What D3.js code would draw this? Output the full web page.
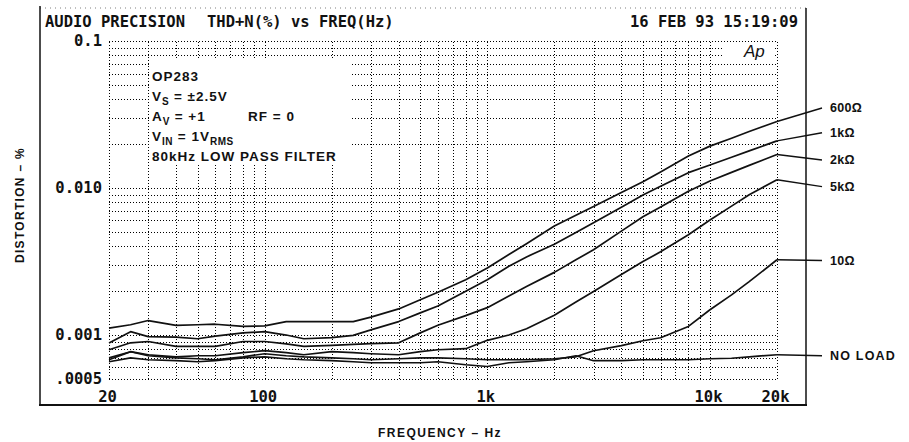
<!DOCTYPE html>
<html>
<head>
<meta charset="utf-8">
<script src="https://cdn.jsdelivr.net/npm/d3@7"></script>
<style>
  html, body { margin: 0; padding: 0; background: #fff; }
  svg { display: block; }
  .mono { font-family: "DejaVu Sans Mono", "Liberation Mono", monospace; font-weight: bold; fill: #111; }
  .sans { font-family: "Liberation Sans", Arial, Helvetica, sans-serif; font-weight: bold; fill: #111; }
</style>
</head>
<body>
<svg id="chart" width="909" height="442"></svg>
<script>
// ---------------- DATA ----------------
const frequencies = [20,25,30,40,50,60,80,100,125,150,200,250,300,400,500,600,800,1000,1250,1500,2000,2500,3000,4000,5000,6000,8000,10000,12500,15000,20000];

const thd600 = [0.00111,0.00117,0.00125,0.00116,0.00117,0.00118,0.00114,0.00115,0.00123,0.00123,0.00123,0.00123,0.00132,0.00150,0.00173,0.00195,0.00237,0.00285,0.00352,0.00417,0.00551,0.00651,0.00746,0.00930,0.01101,0.01285,0.01646,0.01925,0.0218,0.0242,0.0283];
const thd1k = [0.000879,0.00105,0.000972,0.000963,0.000940,0.000978,0.00103,0.00105,0.000996,0.000940,0.000957,0.00099,0.00108,0.00123,0.00141,0.00157,0.00198,0.00237,0.00293,0.00339,0.00414,0.00496,0.00578,0.00737,0.00893,0.01026,0.0127,0.01433,0.01618,0.01786,0.0209];
const thd2k = [0.000791,0.000882,0.0009,0.000833,0.000833,0.000833,0.0009,0.0009,0.000868,0.000833,0.000848,0.00086,0.00087,0.000882,0.00103,0.00116,0.00135,0.00153,0.00184,0.00213,0.00266,0.00324,0.00379,0.00508,0.00636,0.00742,0.00948,0.01115,0.01276,0.01423,0.0169];
const thd5k = [0.000697,0.000767,0.000731,0.000708,0.00072,0.00072,0.000755,0.000779,0.000755,0.000731,0.000767,0.000755,0.000743,0.000731,0.000767,0.000791,0.000804,0.000917,0.000996,0.0011,0.00136,0.00167,0.00197,0.00257,0.00315,0.00367,0.0048,0.00604,0.00751,0.00899,0.01136];
const thd10 = [0.000676,0.000767,0.00072,0.000697,0.000687,0.000676,0.000708,0.000743,0.00072,0.000708,0.000697,0.000687,0.000676,0.000687,0.000697,0.000697,0.000687,0.000676,0.000676,0.000676,0.000687,0.000708,0.000779,0.000843,0.000911,0.000955,0.00114,0.00148,0.00187,0.0023,0.00324];
const thdNoLoad = [0.000655,0.000697,0.000676,0.000666,0.000655,0.000666,0.000697,0.000708,0.000687,0.000676,0.000666,0.000655,0.000645,0.000645,0.000645,0.000655,0.000625,0.000608,0.000645,0.000655,0.000676,0.00072,0.000666,0.000666,0.000676,0.000676,0.000676,0.000687,0.000692,0.000708,0.000731];

const seriesNames = ["600Ω","1kΩ","2kΩ","5kΩ","10Ω","NO LOAD"];
const seriesValues = [thd600, thd1k, thd2k, thd5k, thd10, thdNoLoad];
// value level (in %) at which each series label sits
const labelLevels = [0.035, 0.0237, 0.0155, 0.0102, 0.0032, 0.00072];

const xTickValues = [20, 100, 1000, 10000, 20000];
const xTickLabels = ["20", "100", "1k", "10k", "20k"];
const yTickValues = [0.1, 0.01, 0.001, 0.0005];
const yTickLabels = ["0.1", "0.010", "0.001", ".0005"];

const xGridValues = [20,30,40,50,60,70,80,90,100,200,300,400,500,600,700,800,900,1000,2000,3000,4000,5000,6000,7000,8000,9000,10000,20000];
const yGridValues = [0.0005,0.0006,0.0007,0.0008,0.0009,0.001,0.002,0.003,0.004,0.005,0.006,0.007,0.008,0.009,0.01,0.02,0.03,0.04,0.05,0.06,0.07,0.08,0.09,0.1];

// ---------------- LAYOUT ----------------
const svg = d3.select("#chart");
const X0 = 109, X1 = 777, Y0 = 379, Y1 = 41;

const x = d3.scaleLog().domain([20, 20000]).range([X0, X1]);
const y = d3.scaleLog().domain([0.0005, 0.1]).range([Y0, Y1]);

svg.append("rect").attr("width", 909).attr("height", 442).attr("fill", "#fff");

// outer frame
svg.append("line").attr("x1", 40).attr("x2", 806).attr("y1", 8).attr("y2", 8)
  .attr("stroke", "#000").attr("stroke-width", 1).attr("stroke-dasharray", "1,4").attr("opacity", 0.5);
svg.append("line").attr("x1", 40).attr("x2", 40).attr("y1", 6).attr("y2", 405)
  .attr("stroke", "#111").attr("stroke-width", 1.5);
svg.append("line").attr("x1", 806).attr("x2", 806).attr("y1", 8).attr("y2", 405)
  .attr("stroke", "#111").attr("stroke-width", 1.5);
svg.append("line").attr("x1", 39).attr("x2", 807).attr("y1", 405).attr("y2", 405)
  .attr("stroke", "#111").attr("stroke-width", 2);

// grid
const gx = svg.append("g").attr("transform", `translate(0,${Y0})`)
  .call(d3.axisBottom(x).tickValues(xGridValues).tickSize(-(Y0 - Y1)).tickFormat(""));
const gy = svg.append("g").attr("transform", `translate(${X0},0)`)
  .call(d3.axisLeft(y).tickValues(yGridValues).tickSize(-(X1 - X0)).tickFormat(""));
[gx, gy].forEach(g => {
  g.select(".domain").remove();
  g.selectAll(".tick line").attr("stroke", "#000").attr("stroke-width", 1)
    .attr("stroke-dasharray", "1,2").attr("shape-rendering", "crispEdges");
});

// white boxes behind annotation and logo
svg.append("rect").attr("x", 150).attr("y", 58).attr("width", 201).attr("height", 106).attr("fill", "#fff");
svg.append("rect").attr("x", 722).attr("y", 44).attr("width", 53).attr("height", 14).attr("fill", "#fff");

// tick labels
const ax = svg.append("g").attr("transform", `translate(0,${Y0})`)
  .call(d3.axisBottom(x).tickValues(xTickValues).tickSize(0).tickPadding(12)
    .tickFormat((d, i) => xTickLabels[i]));
const ay = svg.append("g").attr("transform", `translate(${X0},0)`)
  .call(d3.axisLeft(y).tickValues(yTickValues).tickSize(0).tickPadding(7)
    .tickFormat((d, i) => yTickLabels[i]));
[ax, ay].forEach(g => {
  g.select(".domain").remove();
  g.selectAll(".tick text").attr("class", "mono").attr("font-size", 15.5)
    .style("font-family", '"DejaVu Sans Mono", monospace').style("font-weight", "bold").attr("fill", "#111");
});
ax.selectAll(".tick text").attr("dx", -2);

// title texts
svg.append("text").attr("class", "mono").attr("x", 45).attr("y", 27).attr("font-size", 15.5).text("AUDIO PRECISION");
svg.append("text").attr("class", "mono").attr("x", 207).attr("y", 27).attr("font-size", 15.5).text("THD+N(%) vs FREQ(Hz)");
svg.append("text").attr("class", "mono").attr("x", 798).attr("y", 27).attr("font-size", 15.5)
  .attr("text-anchor", "end").text("16 FEB 93 15:19:09");

// Ap logo
svg.append("text").attr("x", 744).attr("y", 57).attr("font-size", 17)
  .style("font-family", '"Liberation Sans", Arial, sans-serif').style("font-style", "italic")
  .attr("fill", "#111").text("Ap");

// axis titles
svg.append("text").attr("class", "sans").attr("font-size", 12).attr("letter-spacing", 1.3)
  .attr("text-anchor", "middle").attr("transform", "translate(24,205) rotate(-90)")
  .text("DISTORTION – %");
svg.append("text").attr("class", "sans").attr("font-size", 12).attr("letter-spacing", 1.5)
  .attr("text-anchor", "middle").attr("x", 440).attr("y", 436.5)
  .text("FREQUENCY – Hz");

// annotation block
const note = svg.append("g").attr("class", "sans").attr("font-size", 13.5).attr("letter-spacing", 1);
function noteLine(yb, parts, xStart) {
  const t = note.append("text").attr("x", xStart).attr("y", yb);
  parts.forEach(p => {
    const s = t.append("tspan").text(p.t);
    if (p.sub) s.attr("font-size", 10).attr("dy", 4).attr("letter-spacing", 0.5);
    if (p.up) s.attr("dy", -4);
  });
}
noteLine(80.5, [{t: "OP283"}], 152);
noteLine(100.5, [{t: "V"}, {t: "S", sub: true}, {t: " = ±2.5V", up: true}], 152);
noteLine(120.5, [{t: "A"}, {t: "V", sub: true}, {t: " = +1", up: true}], 152);
noteLine(120.5, [{t: "RF = 0"}], 248);
noteLine(140.5, [{t: "V"}, {t: "IN", sub: true}, {t: " = 1V", up: true}, {t: "RMS", sub: true}], 152);
noteLine(160.5, [{t: "80kHz LOW PASS FILTER"}], 152);

// curves
const line = d3.line().x(d => x(d.f)).y(d => y(d.v));
seriesValues.forEach((vals, i) => {
  const pts = frequencies.map((f, j) => ({f, v: vals[j]}));
  svg.append("path").datum(pts).attr("d", line)
    .attr("fill", "none").attr("stroke", "#111").attr("stroke-width", 1.7)
    .attr("stroke-linejoin", "round");
  // leader line to label
  const endV = vals[vals.length - 1];
  svg.append("line")
    .attr("x1", x(20000)).attr("y1", y(endV))
    .attr("x2", x(20000) + 45).attr("y2", y(labelLevels[i]))
    .attr("stroke", "#111").attr("stroke-width", 1.5);
  svg.append("text").attr("class", "sans").attr("font-size", 12.5)
    .attr("letter-spacing", seriesNames[i] === "NO LOAD" ? 1.2 : 0.3)
    .attr("x", x(20000) + 53).attr("y", y(labelLevels[i])).attr("dy", "0.36em")
    .text(seriesNames[i]);
});
</script>
</body>
</html>
